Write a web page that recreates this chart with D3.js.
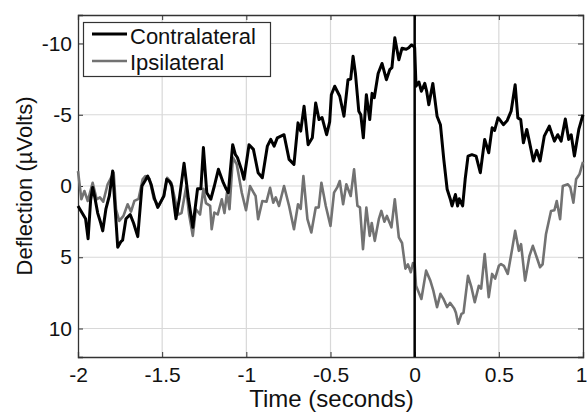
<!DOCTYPE html>
<html>
<head>
<meta charset="utf-8">
<script src="https://cdn.jsdelivr.net/npm/d3@7"></script>
<style>
	body { margin: 0; background: #fff; }
	text { font-family: "Liberation Sans", Arial, sans-serif; fill: #111; }
</style>
</head>
<body>
<div id="chart"></div>
<script>
// time (s) / deflection (uV)
var contraT = [-2.00,-1.97,-1.955,-1.94,-1.925,-1.913,-1.90,-1.883,-1.865,-1.853,-1.834,-1.814,-1.794,-1.764,-1.745,-1.735,-1.715,-1.69,-1.67,-1.645,-1.62,-1.60,-1.586,-1.565,-1.545,-1.526,-1.49,-1.473,-1.455,-1.443,-1.418,-1.398,-1.37,-1.344,-1.318,-1.29,-1.27,-1.255,-1.235,-1.211,-1.19,-1.166,-1.137,-1.12,-1.107,-1.081,-1.065,-1.053,-1.03,-1.014,-0.984,-0.958,-0.93,-0.905,-0.875,-0.855,-0.835,-0.816,-0.776,-0.746,-0.717,-0.693,-0.677,-0.657,-0.633,-0.608,-0.588,-0.568,-0.55,-0.523,-0.505,-0.495,-0.475,-0.445,-0.42,-0.396,-0.38,-0.366,-0.352,-0.332,-0.32,-0.305,-0.287,-0.267,-0.253,-0.24,-0.217,-0.194,-0.168,-0.148,-0.135,-0.118,-0.094,-0.075,-0.05,-0.035,-0.02,-0.005,0.0,0.008,0.025,0.04,0.06,0.072,0.084,0.108,0.133,0.153,0.173,0.193,0.212,0.222,0.242,0.255,0.265,0.285,0.30,0.317,0.34,0.365,0.39,0.416,0.44,0.46,0.475,0.495,0.505,0.527,0.55,0.573,0.597,0.613,0.63,0.646,0.666,0.68,0.705,0.725,0.745,0.77,0.80,0.83,0.85,0.87,0.895,0.915,0.93,0.949,0.975,1.0];
var contraV = [1.4,2.0,2.3,3.7,1.0,0.1,0.8,1.9,2.6,3.15,1.6,0.7,-1.05,4.3,3.9,3.8,2.3,2.0,2.6,3.55,0.0,-0.4,-0.7,-0.1,0.9,1.5,0.7,-0.47,-0.3,0.0,2.3,0.9,-1.6,0.9,2.9,0.2,0.2,-2.7,0.47,0.93,0.0,-1.17,-0.23,0.2,0.47,-2.9,-2.2,-2.0,-1.2,-0.47,-2.9,-2.57,-0.93,-0.58,-2.8,-3.27,-2.8,-3.38,-3.6,-1.87,-1.52,-4.43,-3.85,-5.6,-2.9,-3.38,-5.83,-4.66,-4.8,-3.6,-4.5,-6.4,-7.0,-6.3,-4.9,-7.46,-7.5,-9.1,-7.9,-5.25,-5.0,-3.38,-6.4,-4.66,-6.5,-6.2,-7.9,-8.6,-7.46,-8.16,-8.3,-10.4,-8.86,-9.67,-9.6,-9.7,-9.9,-9.8,-9.7,-7.0,-7.3,-6.65,-7.2,-6.6,-5.7,-7.2,-4.9,-4.3,-1.87,0.23,0.93,1.4,0.6,1.4,0.9,1.4,-0.47,-2.1,-2.2,-2.1,-0.93,-3.27,-2.33,-4.08,-3.9,-4.78,-4.66,-4.3,-4.6,-5.25,-7.1,-4.78,-4.66,-3.03,-3.97,-3.2,-1.75,-2.5,-1.75,-3.5,-4.2,-3.15,-3.6,-3.15,-4.7,-3.27,-3.6,-2.1,-3.97,-5.0];

var ipsiT = [-2.00,-1.98,-1.962,-1.942,-1.913,-1.889,-1.87,-1.85,-1.824,-1.804,-1.788,-1.774,-1.755,-1.73,-1.705,-1.685,-1.665,-1.64,-1.616,-1.60,-1.575,-1.55,-1.52,-1.49,-1.47,-1.445,-1.404,-1.385,-1.358,-1.34,-1.318,-1.30,-1.275,-1.255,-1.24,-1.215,-1.206,-1.19,-1.17,-1.146,-1.13,-1.115,-1.10,-1.08,-1.057,-1.027,-1.002,-0.978,-0.96,-0.945,-0.93,-0.905,-0.88,-0.859,-0.84,-0.825,-0.806,-0.776,-0.746,-0.717,-0.693,-0.677,-0.661,-0.637,-0.614,-0.588,-0.57,-0.554,-0.528,-0.50,-0.479,-0.46,-0.445,-0.425,-0.406,-0.38,-0.36,-0.34,-0.325,-0.307,-0.287,-0.267,-0.255,-0.237,-0.213,-0.198,-0.18,-0.165,-0.138,-0.118,-0.094,-0.075,-0.055,-0.04,-0.023,-0.01,0.0,0.008,0.04,0.068,0.093,0.11,0.133,0.153,0.17,0.193,0.21,0.235,0.245,0.258,0.278,0.29,0.317,0.337,0.357,0.381,0.395,0.416,0.44,0.46,0.478,0.50,0.513,0.53,0.553,0.579,0.597,0.619,0.632,0.656,0.682,0.702,0.725,0.745,0.76,0.78,0.81,0.83,0.844,0.864,0.88,0.91,0.925,0.943,0.959,0.979,1.0];
var ipsiV = [-1.05,0.93,0.35,1.05,-0.23,0.93,0.8,1.1,-0.12,-0.58,-0.93,1.63,2.45,2.1,1.28,1.8,1.05,0.9,-0.47,-0.7,-0.5,0.9,1.4,0.7,-0.58,-0.2,2.0,1.9,0.1,2.0,3.5,1.63,2.0,0.2,1.2,1.4,3.03,1.86,2.0,0.93,1.9,0.47,1.63,-2.0,-1.52,0.47,1.7,0.0,0.4,0.7,2.33,1.05,1.1,0.12,1.17,0.8,1.4,0.0,1.4,3.03,1.28,1.6,-0.7,2.33,3.26,1.52,1.5,-0.23,1.4,2.8,0.47,0.1,-0.35,1.28,-0.12,0.7,-1.17,1.4,1.5,4.43,1.52,3.5,2.6,3.85,2.33,1.75,2.5,2.1,2.9,0.93,3.6,4.0,5.8,5.5,6.05,5.4,5.5,7.0,7.93,5.94,6.64,7.3,8.5,7.57,7.9,8.5,8.2,8.6,8.9,9.67,8.97,8.9,6.3,7.1,8.16,7.0,7.2,4.78,7.8,6.17,6.5,5.6,5.48,5.6,6.17,4.43,3.15,4.55,4.08,6.64,4.9,4.2,5.0,5.7,5.5,3.38,1.75,1.7,1.05,2.33,0.0,-0.12,0.1,1.17,-0.47,-0.82,-1.7];

var xTicks = [-2, -1.5, -1, -0.5, 0, 0.5, 1];
var yTicks = [-10, -5, 0, 5, 10];
var seriesNames = ["Contralateral", "Ipsilateral"];

window.onload = function() {

	var W = 587, H = 414;
	var left = 78, right = 583, top = 15, bottom = 357;
	var contraColor = "#000", ipsiColor = "#727272";

	var svg = d3.select("#chart")
		.append("svg")
		.attr("width", W)
		.attr("height", H);

	var x = d3.scaleLinear().domain([-2, 1]).range([left, right]);
	var y = d3.scaleLinear().domain([-12, 12]).range([top, bottom]);

	// plain hyphen minus like matlab
	var fmt = function(d) { return String(d); };

	// grid
	svg.append("g").selectAll("line")
		.data(xTicks.slice(1, -1))
		.enter().append("line")
		.attr("x1", function(d) { return x(d); })
		.attr("x2", function(d) { return x(d); })
		.attr("y1", top).attr("y2", bottom)
		.attr("stroke", "#d8d8d8").attr("stroke-width", 1.2);
	svg.append("g").selectAll("line")
		.data(yTicks)
		.enter().append("line")
		.attr("y1", function(d) { return y(d); })
		.attr("y2", function(d) { return y(d); })
		.attr("x1", left).attr("x2", right)
		.attr("stroke", "#d8d8d8").attr("stroke-width", 1.2);

	// axes, ticks inside, box on
	var xAxis = svg.append("g")
		.attr("transform", "translate(0," + bottom + ")")
		.call(d3.axisBottom(x).tickValues(xTicks).tickSize(-5).tickPadding(10).tickFormat(fmt));
	svg.append("g")
		.attr("transform", "translate(0," + top + ")")
		.call(d3.axisTop(x).tickValues(xTicks).tickSize(-5).tickFormat(""));
	var yAxis = svg.append("g")
		.attr("transform", "translate(" + left + ",0)")
		.call(d3.axisLeft(y).tickValues(yTicks).tickSize(-5).tickPadding(6).tickFormat(fmt));
	svg.append("g")
		.attr("transform", "translate(" + right + ",0)")
		.call(d3.axisRight(y).tickValues(yTicks).tickSize(-5).tickFormat(""));

	svg.selectAll(".domain").attr("stroke", "#333").attr("stroke-width", 1.3);
	svg.selectAll(".tick line").attr("stroke", "#333");
	svg.selectAll(".tick text")
		.style("font-size", "21px")
		.style("font-family", "Liberation Sans, Arial, sans-serif")
		.attr("fill", "#111");
	// last label sits on the edge
	xAxis.selectAll(".tick text").filter(function(d) { return d === 1; }).attr("dx", -2);

	// traces
	var line = d3.line()
		.x(function(d) { return x(d[0]); })
		.y(function(d) { return y(d[1]); });

	svg.append("path")
		.datum(d3.zip(ipsiT, ipsiV))
		.attr("d", line)
		.attr("fill", "none")
		.attr("stroke", ipsiColor)
		.attr("stroke-width", 2.6)
		.attr("stroke-linejoin", "round");

	svg.append("path")
		.datum(d3.zip(contraT, contraV))
		.attr("d", line)
		.attr("fill", "none")
		.attr("stroke", contraColor)
		.attr("stroke-width", 3)
		.attr("stroke-linejoin", "round");

	// stimulus onset
	svg.append("line")
		.attr("x1", x(0)).attr("x2", x(0))
		.attr("y1", top).attr("y2", bottom)
		.attr("stroke", "#000").attr("stroke-width", 2.5);

	// legend
	var lg = svg.append("g");
	lg.append("rect")
		.attr("x", 83.5).attr("y", 22.5)
		.attr("width", 187).attr("height", 54)
		.attr("fill", "#fff").attr("stroke", "#333").attr("stroke-width", 1.2);
	lg.selectAll("line")
		.data(seriesNames)
		.enter().append("line")
		.attr("x1", 92).attr("x2", 127)
		.attr("y1", function(d, i) { return 34 + i * 27; })
		.attr("y2", function(d, i) { return 34 + i * 27; })
		.attr("stroke", function(d, i) { return i ? ipsiColor : contraColor; })
		.attr("stroke-width", function(d, i) { return i ? 2.6 : 3; });
	lg.selectAll("text")
		.data(seriesNames)
		.enter().append("text")
		.attr("x", 130)
		.attr("y", function(d, i) { return 44 + i * 26; })
		.style("font-size", "22px")
		.text(function(d) { return d; });

	// axis titles
	svg.append("text")
		.attr("x", (left + right) / 2 + 1)
		.attr("y", 407)
		.attr("text-anchor", "middle")
		.style("font-size", "24px")
		.text("Time (seconds)");

	svg.append("text")
		.attr("transform", "translate(32," + ((top + bottom) / 2) + ") rotate(-90)")
		.attr("text-anchor", "middle")
		.style("font-size", "22px")
		.text("Deflection (\u00b5Volts)");
}
</script>
</body>
</html>
